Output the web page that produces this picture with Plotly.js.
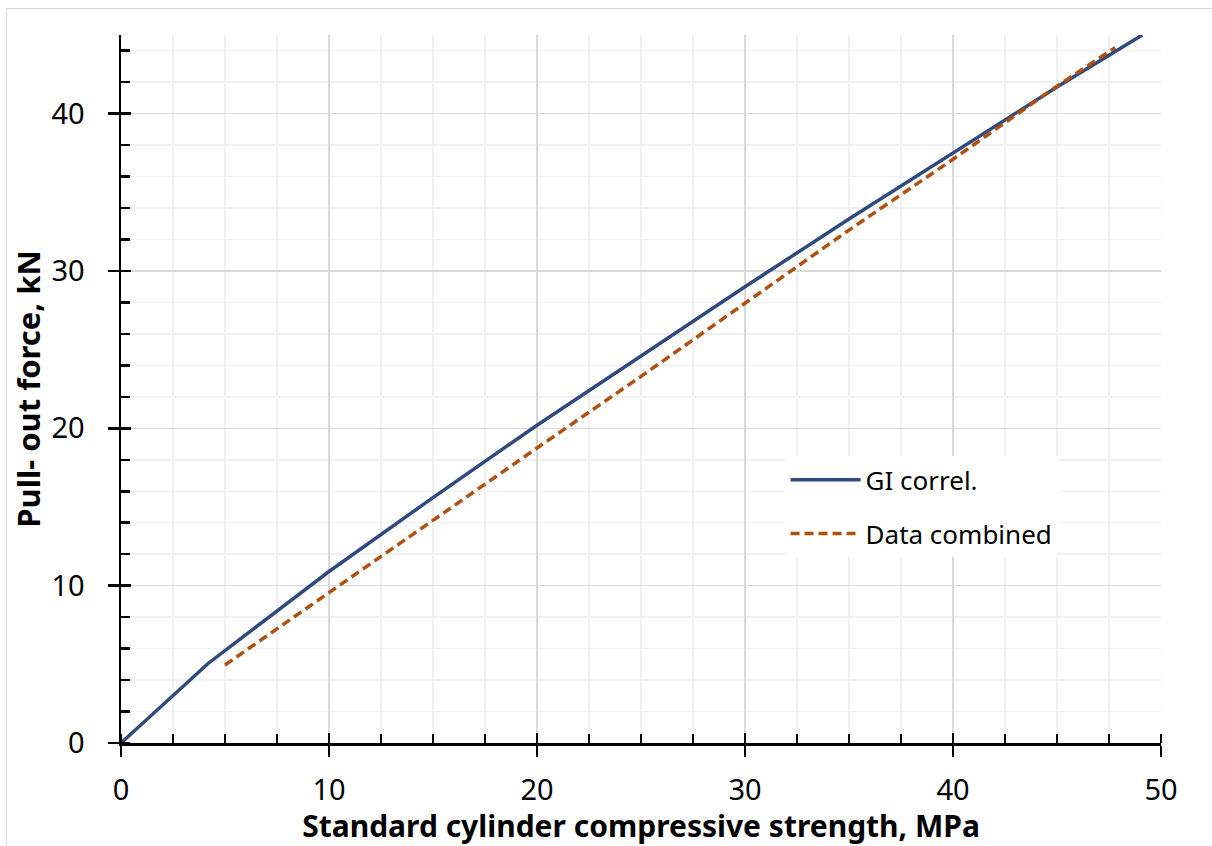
<!DOCTYPE html>
<html>
<head>
<meta charset="utf-8">
<script src="https://cdn.plot.ly/plotly-3.0.1.min.js"></script>
<style>
  html, body { margin: 0; padding: 0; background: #fff; overflow: hidden; }
  #frame { position: absolute; left: 6px; top: 8px; width: 1300px; height: 1000px; border: 1.5px solid #d9d9d9; }
  #chart { position: absolute; left: 0; top: 0; width: 1212px; height: 846px; }
</style>
</head>
<body>
<div id="frame"></div>
<div id="chart"></div>
<script>
// GI correlation
const giX = [0, 4.2, 10, 15, 20, 25, 30, 35, 40, 45, 49.1];
const giY = [0, 5.07, 10.9, 15.6, 20.2, 24.6, 29.0, 33.3, 37.5, 41.7, 45.0];
// Data combined
const dcX = [5, 10, 15, 20, 25, 30, 35, 40, 45, 47.8];
const dcY = [4.96, 9.55, 14.2, 18.75, 23.3, 27.95, 32.6, 37.1, 41.75, 44.2];

const seriesNames = ['GI correl.', 'Data combined'];
const xTitle = 'Standard cylinder compressive strength, MPa';
const yTitle = 'Pull- out force, kN';

const FONT = '"Noto Sans", "Open Sans", sans-serif';

const traces = [
  { x: giX, y: giY, type: 'scatter', mode: 'lines', name: seriesNames[0], legendgroup: 'a',
    line: { color: '#2E4A7F', width: 3.5 } },
  { x: dcX, y: dcY, type: 'scatter', mode: 'lines', name: seriesNames[1], legendgroup: 'b',
    line: { color: '#B0500F', width: 3.5, dash: '9px,5px' } },
  { x: [], y: [], type: 'scatter', mode: 'lines', xaxis: 'x2', yaxis: 'y2', showlegend: false, hoverinfo: 'skip' }
];

const layout = {
  width: 1212, height: 846,
  margin: { l: 121, r: 51, t: 35, b: 103 },
  paper_bgcolor: 'rgba(0,0,0,0)',
  plot_bgcolor: '#fff',
  font: { family: FONT, color: '#000' },
  showlegend: true,
  legend: {
    x: 0.639, y: 0.405, xanchor: 'left', yanchor: 'top',
    bgcolor: '#fff', borderwidth: 0,
    font: { family: FONT, size: 26, color: '#000' },
    traceorder: 'grouped', tracegroupgap: 17,
    itemwidth: 70
  },
  xaxis: {
    range: [0, 50], dtick: 10, tick0: 0,
    showline: true, linecolor: '#000', linewidth: 2.5,
    ticks: 'outside', ticklen: 11, tickwidth: 2.5, tickcolor: '#000',
    showgrid: true, gridcolor: '#d9d9d9', gridwidth: 1.5,
    zeroline: false,
    tickfont: { family: FONT, size: 29, color: '#000' },
    ticklabelstandoff: 9,
    minor: { dtick: 2.5, ticks: 'inside', ticklen: 9, tickwidth: 2.5, tickcolor: '#000', showgrid: true, gridcolor: '#f0f0f0', gridwidth: 1.5 },
    title: { text: xTitle, font: { family: FONT, size: 30, color: '#000', weight: 'bold' }, standoff: 6 }
  },
  yaxis: {
    range: [0, 45], dtick: 10, tick0: 0,
    showline: true, linecolor: '#000', linewidth: 2.5,
    ticks: 'outside', ticklen: 11, tickwidth: 2.5, tickcolor: '#000',
    showgrid: true, gridcolor: '#d9d9d9', gridwidth: 1.5,
    zeroline: false,
    tickfont: { family: FONT, size: 29, color: '#000' },
    ticklabelstandoff: 17,
    minor: { dtick: 2, ticks: 'inside', ticklen: 9, tickwidth: 2.5, tickcolor: '#000', showgrid: true, gridcolor: '#f0f0f0', gridwidth: 1.5 },
    title: { text: yTitle, font: { family: FONT, size: 31, color: '#000', weight: 'bold' }, standoff: 2 }
  },
  xaxis2: {
    overlaying: 'x', matches: 'x', anchor: 'y2', side: 'bottom',
    showline: false, showgrid: false, zeroline: false, showticklabels: false,
    ticks: 'inside', ticklen: 10, tickwidth: 2.5, tickcolor: '#000', dtick: 10, tick0: 0
  },
  yaxis2: {
    overlaying: 'y', matches: 'y', anchor: 'x2', side: 'left',
    showline: false, showgrid: false, zeroline: false, showticklabels: false,
    ticks: 'inside', ticklen: 10, tickwidth: 2.5, tickcolor: '#000', dtick: 10, tick0: 0
  }
};

Plotly.newPlot('chart', traces, layout, { displayModeBar: false, staticPlot: true });
</script>
</body>
</html>
